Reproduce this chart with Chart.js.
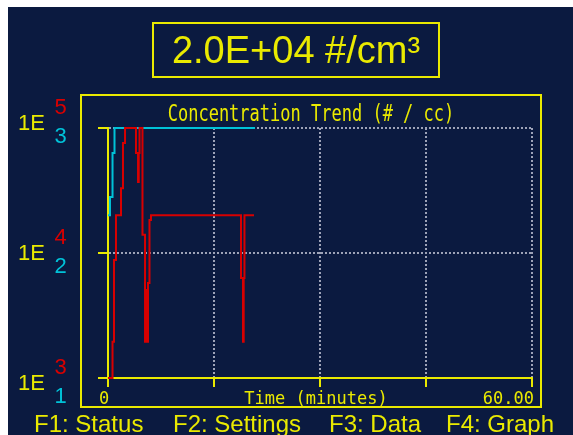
<!DOCTYPE html>
<html>
<head>
<meta charset="utf-8">
<title>Concentration Trend</title>
<script src="https://cdn.jsdelivr.net/npm/chart.js@4.4.1/dist/chart.umd.min.js"></script>
<style>
  html, body { margin: 0; padding: 0; background: #fff; }
  body { position: relative; width: 573px; height: 435px; overflow: hidden; }
  #screen { position: absolute; left: 8px; top: 7px; right: 0; bottom: 0; background: #0b1a40; }
  #chart { position: absolute; left: 0; top: 0; }
  #reading {
    position: absolute; left: 152px; top: 22px; width: 284px; height: 52px;
    border: 2px solid #eaea00; color: #eaea00; text-align: center;
    font: 38px "Liberation Sans", Arial, sans-serif; line-height: 52px;
  }
  .fkey {
    position: absolute; top: 412px; color: #eaea00; white-space: nowrap;
    font: 24px "Liberation Sans", Arial, sans-serif; line-height: 23px;
  }
</style>
</head>
<body>
<div id="screen"></div>
<canvas id="chart" width="573" height="435"></canvas>
<div id="reading">2.0E+04 #/cm³</div>
<div class="fkey" style="left:34px">F1: Status</div>
<div class="fkey" style="left:173px">F2: Settings</div>
<div class="fkey" style="left:329px">F3: Data</div>
<div class="fkey" style="left:446px">F4: Graph</div>
<script>
const YELLOW = '#eaea00';
const RED = '#d80000';
const CYAN = '#00c2d8';
const GRID = '#9ea3b8';

// time axis (minutes) and decade grid
const xTicks = [0, 15, 30, 45, 60];
const yTicks = [1e3, 1e4, 1e5];

// high range trace (#/cc), red
const highTimes = [0, 0.64, 0.85, 1.13, 1.84, 2.12, 2.41, 3.96, 4.25, 4.35, 4.46, 4.88,
  5.24, 5.42, 5.52, 5.66, 5.87, 6.08, 18.82, 19.1, 19.2, 19.31, 20.66];
const highCounts = [1000, 1950, 8800, 20000, 33000, 76000, 100000, 63000, 37000, 63000, 100000, 14000,
  1950, 5060, 1950, 5750, 18400, 20000, 6300, 1950, 6300, 20000, 20000];

// low range trace (#/cc), cyan
const lowTimes = [0, 0.28, 0.64, 0.92, 20.8];
const lowCounts = [200, 280, 630, 1000, 1000];

const toPoints = (ts, vs) => ts.map((t, i) => ({ x: t, y: vs[i] }));

// frame, title, axis captions and the two-colour exponent labels
const screenText = {
  id: 'screenText',
  afterDraw(chart) {
    const { ctx, scales: { x, y } } = chart;
    ctx.save();
    ctx.strokeStyle = YELLOW;
    ctx.lineWidth = 2;
    ctx.strokeRect(81, 95, 460, 312);

    ctx.fillStyle = YELLOW;
    ctx.textBaseline = 'alphabetic';
    ctx.save();
    ctx.translate(311, 121);
    ctx.scale(1, 1.3);
    ctx.font = '17px "DejaVu Sans Mono", monospace';
    ctx.textAlign = 'center';
    ctx.fillText('Concentration Trend (# / cc)', 0, 0);
    ctx.restore();

    ctx.font = '17px "DejaVu Sans Mono", monospace';
    ctx.textAlign = 'center';
    ctx.fillText('0', x.getPixelForValue(0) - 4, 404);
    ctx.fillText('Time (minutes)', 316, 404);
    ctx.textAlign = 'right';
    ctx.fillText('60.00', x.getPixelForValue(60) + 2, 404);

    const mid = y.getPixelForValue(1e4);
    ctx.textAlign = 'left';
    yTicks.forEach(v => {
      const py = y.getPixelForValue(v);
      const base = py + (py - mid) * 0.04 + 7;
      const exp = Math.round(Math.log10(v));
      ctx.font = '22px "Liberation Sans", Arial, sans-serif';
      ctx.fillStyle = YELLOW;
      ctx.fillText('1E', 18, base);
      ctx.fillStyle = RED;
      ctx.fillText(String(exp), 54.5, base - 16);
      ctx.fillStyle = CYAN;
      ctx.fillText(String(exp - 2), 54.5, base + 13);
    });
    ctx.restore();
  }
};

new Chart(document.getElementById('chart'), {
  type: 'line',
  data: {
    datasets: [
      {
        label: 'High range',
        data: toPoints(highTimes, highCounts),
        yAxisID: 'y',
        borderColor: RED,
        borderWidth: 2,
        pointRadius: 0,
        stepped: true,
        fill: false,
        clip: false
      },
      {
        label: 'Low range',
        data: toPoints(lowTimes, lowCounts),
        yAxisID: 'y2',
        borderColor: CYAN,
        borderWidth: 2,
        pointRadius: 0,
        stepped: true,
        fill: false,
        clip: false
      }
    ]
  },
  options: {
    responsive: false,
    animation: false,
    layout: { padding: { top: 128, right: 41, left: 0, bottom: 0 } },
    plugins: {
      legend: { display: false },
      title: { display: false },
      tooltip: { enabled: false }
    },
    scales: {
      x: {
        type: 'linear',
        min: 0,
        max: 60,
        afterBuildTicks: s => { s.ticks = xTicks.map(v => ({ value: v })); },
        afterFit: s => { s.height = 57; },
        ticks: { display: false },
        grid: { color: GRID, lineWidth: 2, tickColor: YELLOW, tickWidth: 2, tickLength: 9, tickBorderDash: [] },
        border: { color: YELLOW, width: 2, dash: [2, 2] }
      },
      y: {
        type: 'logarithmic',
        position: 'left',
        min: 1e3,
        max: 1e5,
        afterBuildTicks: s => { s.ticks = yTicks.map(v => ({ value: v })); },
        afterFit: s => { s.width = 108; },
        ticks: { display: false },
        grid: { color: GRID, lineWidth: 2, tickColor: YELLOW, tickWidth: 2, tickLength: 10, tickBorderDash: [] },
        border: { color: YELLOW, width: 2, dash: [2, 2] }
      },
      y2: {
        type: 'logarithmic',
        min: 10,
        max: 1000,
        display: false
      }
    }
  },
  plugins: [screenText]
});
</script>
</body>
</html>
